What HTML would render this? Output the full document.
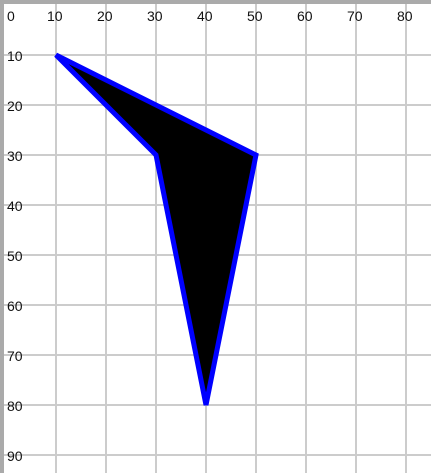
<!DOCTYPE html>
<html><head><meta charset="utf-8"><style>
body{margin:0;background:#fff;width:431px;height:473px;overflow:hidden}
svg{display:block;font-family:"Liberation Sans",sans-serif;font-size:14px}
</style></head><body>
<svg id="chart" width="431" height="473"></svg>
<script>
const xTicks=[10,20,30,40,50,60,70,80];
const yTicks=[10,20,30,40,50,60,70,80,90];
const polyX=[10,50,40,30];
const polyY=[10,30,80,30];
const ns='http://www.w3.org/2000/svg';
const svg=document.getElementById('chart');
const sx=v=>6+v*5, sy=v=>5+v*5;
function mk(t,a,p){const e=document.createElementNS(ns,t);for(const k in a)e.setAttribute(k,a[k]);(p||svg).appendChild(e);return e;}
const grid=mk('g',{});


xTicks.forEach(v=>{const l=mk('line',{x1:sx(v),x2:sx(v),y1:0,y2:473,stroke:'#cccccc','stroke-width':2},grid);

});
yTicks.forEach(v=>{const l=mk('line',{x1:0,x2:431,y1:sy(v),y2:sy(v),stroke:'#cccccc','stroke-width':2},grid);

});
const b1=mk('rect',{x:0,y:0,width:431,height:4,fill:'#aaaaaa'});


const b2=mk('rect',{x:0,y:0,width:4,height:473,fill:'#aaaaaa'});


const t0=mk('text',{x:7,y:21,fill:'#111'});t0.textContent='0';


xTicks.forEach(v=>{const t=mk('text',{x:sx(v)-9,y:21,fill:'#111'});t.textContent=v;

});
yTicks.forEach(v=>{const t=mk('text',{x:7,y:sy(v)+6,fill:'#111'});t.textContent=v;

});
const pts=polyX.map((x,i)=>sx(x)+','+sy(polyY[i])).join(' ');
const p=mk('polygon',{points:pts,fill:'#000',stroke:'#0000ff','stroke-width':5,'stroke-linejoin':'miter'});


</script>
</body></html>
